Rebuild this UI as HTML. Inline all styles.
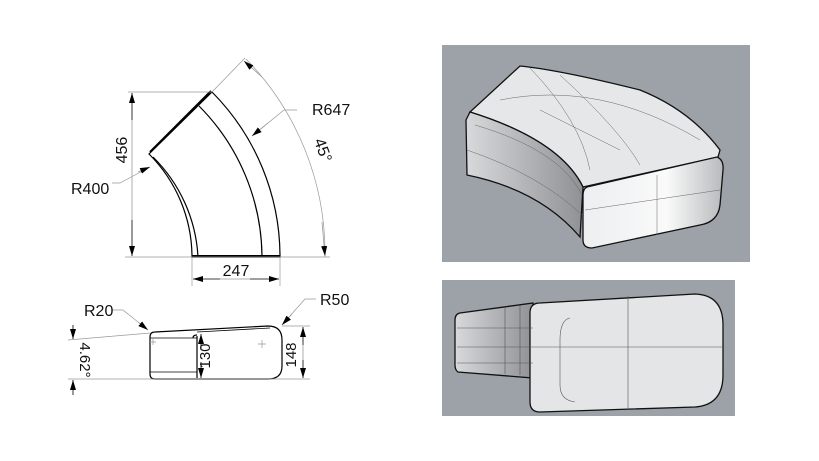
<!DOCTYPE html>
<html><head><meta charset="utf-8"><style>
html,body{margin:0;padding:0;background:#fff;width:819px;height:461px;overflow:hidden}
svg{display:block}
text{font-family:"Liberation Sans",Arial,sans-serif;fill:#111}
</style></head><body>
<svg width="819" height="461" viewBox="0 0 819 461" xmlns="http://www.w3.org/2000/svg">
<defs>
<marker id="a" viewBox="0 0 10 6" refX="10" refY="3" markerWidth="10" markerHeight="6" orient="auto" markerUnits="userSpaceOnUse"><path d="M0,0L10,3L0,6Z" fill="#000"/></marker>
<linearGradient id="g1" x1="0" y1="0" x2="1" y2="0"><stop offset="0" stop-color="#eceef0"/><stop offset="0.6" stop-color="#fafafa"/><stop offset="1" stop-color="#b8babd"/></linearGradient>
<linearGradient id="g2" x1="0" y1="0" x2="1" y2="0"><stop offset="0" stop-color="#d8d9db"/><stop offset="1" stop-color="#8f9195"/></linearGradient>
</defs>
<!-- bend drawing -->
<g fill="none" stroke="#000" stroke-width="1.2">
<path d="M192,257 A146,146 0 0 0 149,154 L212,92 A234,234 0 0 1 280,257 Z"/>
<path d="M198,257 A152,152 0 0 0 153,157"/>
<path d="M262,257 A216,216 0 0 0 199,106"/>
<path d="M150,152 L211,91" stroke-width="2"/>
<path d="M192,256 L280,256" stroke-width="2"/>
</g>
<g fill="none" stroke="#999" stroke-width="0.7">
<path d="M128,92 L212,92"/><path d="M125,257 L330,257"/>
<path d="M192,258 L192,286"/><path d="M280,258 L280,286"/>
<path d="M212,92 L245,58"/>
<path d="M246,59 A279,279 0 0 1 325,257"/>
<path d="M297,110 L284,110 L252,136"/>
<path d="M112,183 L120,183 L150,167"/>
</g>
<g stroke="#000" stroke-width="0.8" fill="none">
<path d="M132,120 L132,93" marker-end="url(#a)"/><path d="M132,220 L132,256" marker-end="url(#a)"/>
<path d="M132,120 L132,220" stroke="#999"/>
<path d="M220,279 L193,279" marker-end="url(#a)"/><path d="M250,279 L279,279" marker-end="url(#a)"/>
<path d="M220,279 L250,279" stroke="#999"/>
<path d="M262,77 L244,61" marker-end="url(#a)" stroke="#999"/>
<path d="M322,222 L325,256" marker-end="url(#a)" stroke="#999"/>
<path d="M268,123 L252,136" marker-end="url(#a)" stroke="#999"/>
<path d="M138,172 L150,167" marker-end="url(#a)" stroke="#999"/>
</g>
<text x="127" y="150" font-size="16" text-anchor="middle" transform="rotate(-90 127 150)">456</text>
<text x="236" y="276" font-size="16" text-anchor="middle">247</text>
<text x="312" y="115" font-size="16">R647</text>
<text x="71" y="194" font-size="16">R400</text>
<text x="318" y="152" font-size="16" text-anchor="middle" transform="rotate(70 318 152)">45°</text>
<!-- section drawing -->
<g fill="none" stroke="#000" stroke-width="1.2">
<path d="M155,332 L268,326 Q282,326 282,340 L282,366 Q282,379 268,379 L155,379 Q150,379 150,374 L150,337 Q150,332 155,332 Z"/>
<path d="M197,336 L197,378"/><path d="M193,338 Q193,335 197,335"/>
<path d="M150,338 L197,338" stroke-width="0.8"/><path d="M150,372 L197,372" stroke-width="0.8"/>
<path d="M197,332 L270,328" stroke-width="0.8"/>
</g>
<g fill="none" stroke="#999" stroke-width="0.7">
<path d="M68,340 L150,333"/><path d="M68,379 L310,379"/><path d="M282,326 L310,326"/>
<path d="M112,310 L123,310 L148,330"/><path d="M316,299 L305,299 L282,325"/>
<path d="M153,339 L153,345 M150,342 L156,342 M262,340 L262,348 M258,344 L266,344"/>
</g>
<g stroke="#000" stroke-width="0.8" fill="none">
<path d="M303,345 L303,327" marker-end="url(#a)"/><path d="M303,360 L303,378" marker-end="url(#a)"/>
<path d="M303,345 L303,360" stroke="#999"/>
<path d="M201,350 L201,334" marker-end="url(#a)"/><path d="M201,362 L201,378" marker-end="url(#a)"/>
<path d="M73,325 L73,339" marker-end="url(#a)"/><path d="M73,395 L73,380" marker-end="url(#a)"/>
<path d="M138,322 L148,330" marker-end="url(#a)" stroke="#999"/>
<path d="M292,314 L282,325" marker-end="url(#a)" stroke="#999"/>
</g>
<text x="296" y="355" font-size="15" text-anchor="middle" transform="rotate(-90 296 355)">148</text>
<text x="210" y="356" font-size="15" text-anchor="middle" transform="rotate(-90 210 356)">130</text>
<text x="80" y="360" font-size="15" text-anchor="middle" transform="rotate(90 80 360)">4.62°</text>
<text x="84" y="316" font-size="16">R20</text>
<text x="320" y="305" font-size="16">R50</text>
<!-- render panels -->
<rect x="442" y="45" width="308" height="217" fill="#9da1a8"/>
<rect x="442" y="280" width="293" height="136" fill="#9da1a8"/>
<g stroke="#111" stroke-width="1.3">
<path d="M470,112 L520,66 Q560,70 640,90 Q690,110 720,150 L718,157 L583,187 Q560,140 470,112 Z" fill="#e6e7e9"/>
<path d="M470,112 Q560,140 583,187 L580,237 Q540,190 467,175 L466,120 Z" fill="url(#g2)"/>
<path d="M587,187 L717,157 Q724,160 723,170 L720,205 Q718,222 700,225 L592,248 Q583,248 583,240 L583,195 Q583,189 587,187 Z" fill="url(#g1)"/>
</g>
<g stroke="#666" stroke-width="0.5" fill="none">
<path d="M530,68 Q580,120 590,170"/><path d="M475,125 Q560,150 582,195"/><path d="M467,150 Q540,175 582,215"/>
<path d="M540,110 L620,150 M560,75 Q620,130 640,165"/><path d="M585,210 L720,190"/><path d="M657,175 L657,235"/>
<path d="M500,100 Q600,80 700,140"/>
</g>
<g stroke="#111" stroke-width="1.3">
<path d="M460,313 L533,303 L533,378 L458,372 Q455,370 455,365 L455,320 Q455,314 460,313 Z" fill="url(#g2)"/>
<path d="M540,303 L695,294 Q723,295 723,325 L723,375 Q723,405 695,407 L540,412 Q530,412 530,402 L530,313 Q530,303 540,303 Z" fill="#e4e5e7"/>
</g>
<g stroke="#555" stroke-width="0.6" fill="none">
<path d="M457,328 L533,328 M457,347 L723,347 M457,363 L533,363"/><path d="M628,296 L628,410"/>
<path d="M520,305 L520,375 M505,307 L505,374"/><path d="M570,318 Q560,320 560,340 L560,385 Q560,400 575,402"/>
</g>
</svg>
</body></html>
